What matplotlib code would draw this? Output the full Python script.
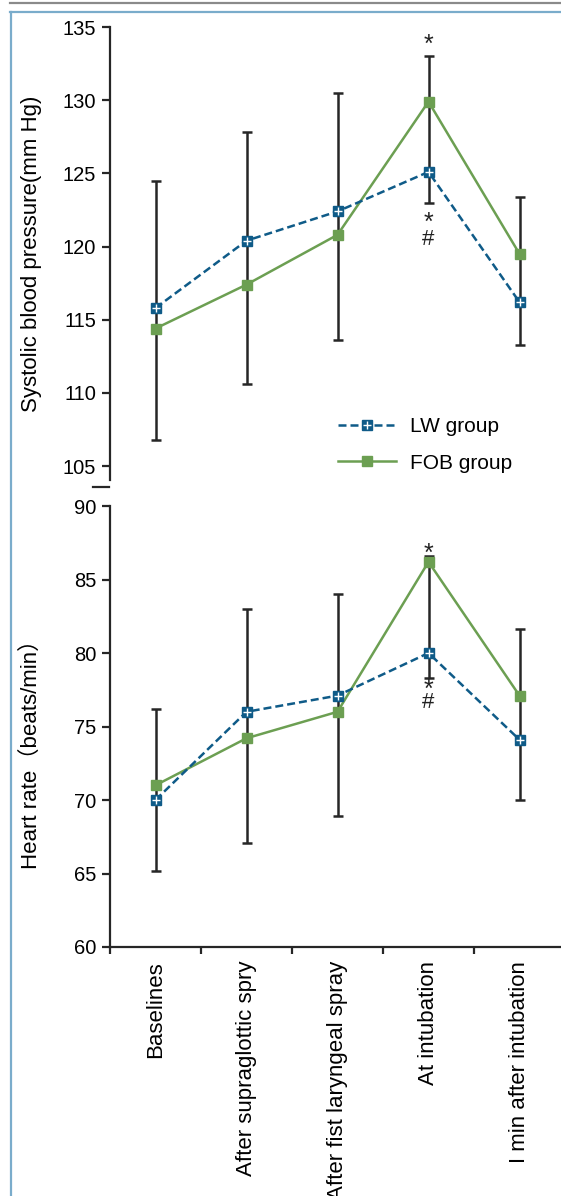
"""Systolic blood pressure and heart rate of the LW and FOB groups."""

import matplotlib

matplotlib.use("Agg")
import matplotlib.pyplot as plt
from matplotlib.lines import Line2D

plt.rcParams["font.family"] = ["Liberation Sans", "Noto Sans CJK SC"]

stages = [
    "Baselines",
    "After supraglottic spry",
    "After fist laryngeal spray",
    "At intubation",
    "I min after intubation",
]

# systolic blood pressure (mm Hg)
sbp_lw = [115.8, 120.4, 122.4, 125.1, 116.2]
sbp_fob = [114.4, 117.4, 120.8, 129.9, 119.5]
sbp_bar_low = [106.8, 110.6, 113.6, 123.0, 113.3]
sbp_bar_high = [124.5, 127.8, 130.5, 133.0, 123.4]

# heart rate (beats/min)
hr_lw = [70.0, 76.0, 77.1, 80.0, 74.1]
hr_fob = [71.0, 74.2, 76.0, 86.2, 77.1]
hr_bar_low = [65.2, 67.1, 68.9, 78.3, 70.0]
hr_bar_high = [76.2, 83.0, 84.0, 86.6, 81.6]

# significance marks: stage index, marks above the bar, marks below the bar
sbp_marks = [(3, ["*"], ["*", "#"])]
hr_marks = [(3, ["*"], ["*", "#"])]

BLUE = "#0f5b88"
GREEN = "#6c9f52"
BAR = "#262626"

x = [i + 0.5 for i in range(len(stages))]

fig = plt.figure(figsize=(5.61, 11.96), dpi=100)
W, H = 561, 1196
ax_top = fig.add_axes([110 / W, 1 - 480 / H, 455 / W, 453 / H])
ax_bot = fig.add_axes([110 / W, 1 - 947 / H, 455 / W, 441 / H])


def put_mark(ax, text, xy, dy):
    size = 18 if text == "*" else 16
    ax.annotate(text, xy, xytext=(0, dy), textcoords="offset points",
                ha="center", va="center_baseline", fontsize=size,
                color="#222222")


def draw_panel(ax, lw, fob, low, high, marks, above_dy, below_dy):
    mid = [(a + b) / 2 for a, b in zip(low, high)]
    err = [[m - a for m, a in zip(mid, low)], [b - m for m, b in zip(mid, high)]]
    ax.errorbar(x, mid, yerr=err, fmt="none", ecolor=BAR, elinewidth=1.8,
                capsize=3.8, capthick=1.8, zorder=1)
    (fob_line,) = ax.plot(x, fob, color=GREEN, lw=1.8, marker="s",
                          markersize=7, zorder=3)
    (lw_line,) = ax.plot(x, lw, color=BLUE, lw=1.8, ls=(0, (3.2, 1.6)),
                         marker="s", markersize=7, zorder=4)
    (lw_plus,) = ax.plot(x, lw, ls="none", marker="+", color="white",
                         markersize=6, mew=1.0, zorder=5)
    for i, above, below in marks:
        for text, dy in zip(above, above_dy):
            put_mark(ax, text, (x[i], high[i]), dy)
        for text, dy in zip(below, below_dy):
            put_mark(ax, text, (x[i], low[i]), dy)
    ax.set_xlim(0, len(stages))
    ax.spines[["top", "right"]].set_visible(False)
    for side in ("left", "bottom"):
        ax.spines[side].set_linewidth(1.6)
        ax.spines[side].set_color(BAR)
    ax.tick_params(axis="y", direction="out", length=6, width=1.6,
                   labelsize=14.5, color=BAR, pad=4)
    ax.set_xticks(range(len(stages) + 1))
    ax.set_xticklabels([])
    ax.tick_params(axis="x", which="major", direction="out", length=5,
                   width=1.6, color=BAR)
    return lw_line, lw_plus, fob_line


lw_line, lw_plus, fob_line = draw_panel(
    ax_top, sbp_lw, sbp_fob, sbp_bar_low, sbp_bar_high, sbp_marks,
    [10], [-13, -25])
ax_top.set_ylim(104.05, 135)
ax_top.set_yticks(range(105, 136, 5))
ax_top.spines["bottom"].set_visible(False)
ax_top.tick_params(axis="x", which="both", length=0)
ax_top.set_ylabel("Systolic blood pressure(mm Hg)", fontsize=16)
ax_top.yaxis.set_label_coords(-0.15, 0.5)
ax_top.legend(
    [(lw_line, lw_plus), fob_line],
    ["LW group", "FOB group"],
    loc="lower right",
    bbox_to_anchor=(0.925, -0.025),
    frameon=False,
    fontsize=15,
    handlelength=2.8,
    labelspacing=0.85,
    handletextpad=0.65,
)

draw_panel(ax_bot, hr_lw, hr_fob, hr_bar_low, hr_bar_high, hr_marks,
           [3], [-7, -16])
ax_bot.set_ylim(60, 90)
ax_bot.set_yticks(range(60, 91, 5))
ax_bot.set_xticks(x, minor=True)
ax_bot.set_xticklabels(stages, minor=True, rotation=90, fontsize=16)
ax_bot.tick_params(axis="x", which="minor", length=0, pad=10)
ax_bot.set_ylabel("Heart rate（beats/min）", fontsize=16)
ax_bot.yaxis.set_label_coords(-0.15, 0.45)

# axis break mark under the upper panel
fig.add_artist(Line2D([93 / W, 109 / W], [1 - 487 / H] * 2, color=BAR,
                      lw=1.6))
# page frame
fig.add_artist(Line2D([10 / W, 1], [1 - 3 / H] * 2, color="#8a8a8a", lw=1.6))
fig.add_artist(Line2D([10 / W, 1], [1 - 12 / H] * 2, color="#7aaccb",
                      lw=1.6))
fig.add_artist(Line2D([11 / W] * 2, [0, 1 - 12 / H], color="#7aaccb",
                      lw=1.6))

fig.savefig("out.png", dpi=100)
